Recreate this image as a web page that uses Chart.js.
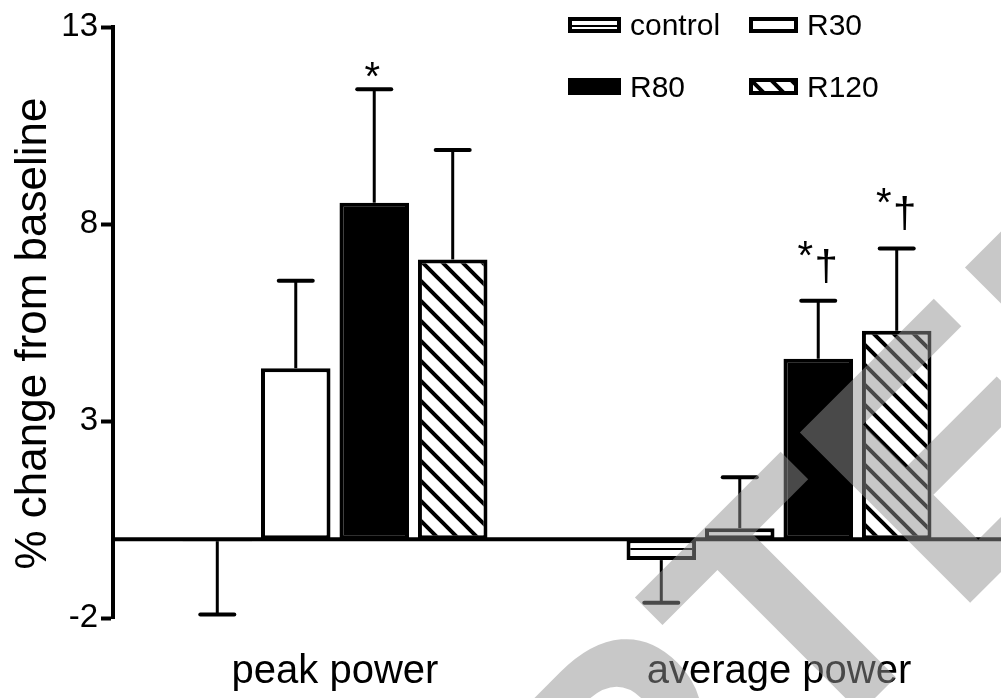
<!DOCTYPE html>
<html>
<head>
<meta charset="utf-8">
<script src="https://cdn.jsdelivr.net/npm/chart.js@4.4.0/dist/chart.umd.min.js"></script>
<style>
  html, body { margin: 0; padding: 0; background: #fff; }
</style>
</head>
<body>
<canvas id="chart" width="1001" height="698"></canvas>
<script>
var categories = ['peak power', 'average power'];
var seriesNames = ['control', 'R30', 'R80', 'R120'];

var controlMean = [-0.05, -0.53];
var controlSD = [1.86, 1.08];
var r30Mean = [4.34, 0.28];
var r30SD = [2.22, 1.29];
var r80Mean = [8.54, 4.58];
var r80SD = [2.88, 1.47];
var r120Mean = [7.10, 5.29];
var r120SD = [2.78, 2.09];

var controlMarks = ['', ''];
var r30Marks = ['', ''];
var r80Marks = ['*', '*\u2020'];
var r120Marks = ['', '*\u2020'];

var yTicks = [-2, 3, 8, 13];
var yTitle = '% change from baseline\u2002';
var watermarkText = 'ACCEPTED MANUSCRIPT';

var FONT = '"Liberation Sans", Arial, sans-serif';

function stripePattern() {
    var c = document.createElement('canvas');
    c.width = 10; c.height = 10;
    var x = c.getContext('2d');
    x.fillStyle = '#fff';
    x.fillRect(0, 0, 10, 10);
    x.fillStyle = '#000';
    x.fillRect(0, 8, 10, 2);
    return x.createPattern(c, 'repeat');
}

function hatchPattern() {
    var c = document.createElement('canvas');
    c.width = 20; c.height = 20;
    var x = c.getContext('2d');
    x.fillStyle = '#fff';
    x.fillRect(0, 0, 20, 20);
    x.strokeStyle = '#000';
    x.lineWidth = 4;
    x.beginPath();
    x.moveTo(-10, -10); x.lineTo(30, 30);
    x.moveTo(-10, 10); x.lineTo(10, 30);
    x.moveTo(10, -10); x.lineTo(30, 10);
    x.stroke();
    return x.createPattern(c, 'repeat');
}

var fills = [stripePattern(), '#ffffff', '#000000', hatchPattern()];
var means = [controlMean, r30Mean, r80Mean, r120Mean];
var sds = [controlSD, r30SD, r80SD, r120SD];
var marks = [controlMarks, r30Marks, r80Marks, r120Marks];

var datasets = seriesNames.map(function(name, i) {
    return {
        label: name,
        data: means[i],
        sd: sds[i],
        marks: marks[i],
        backgroundColor: fills[i],
        borderColor: '#000',
        borderWidth: 4,
        borderSkipped: false,
        categoryPercentage: 0.707,
        barPercentage: 0.886
    };
});

var extras = {
    id: 'extras',
    beforeDatasetsDraw: function(chart) {
        // thick line at zero
        var ctx = chart.ctx;
        var y0 = chart.scales.y.getPixelForValue(0);
        ctx.save();
        ctx.strokeStyle = '#000';
        ctx.lineWidth = 4;
        ctx.beginPath();
        ctx.moveTo(chart.chartArea.left, y0);
        ctx.lineTo(chart.width, y0);
        ctx.stroke();
        ctx.restore();
    },
    afterDatasetsDraw: function(chart) {
        var ctx = chart.ctx;
        var y = chart.scales.y;
        ctx.save();
        ctx.strokeStyle = '#000';
        ctx.fillStyle = '#000';
        chart.data.datasets.forEach(function(ds, i) {
            var meta = chart.getDatasetMeta(i);
            meta.data.forEach(function(bar, j) {
                var v = ds.data[j];
                var end = v + (v < 0 ? -ds.sd[j] : ds.sd[j]);
                var ey = y.getPixelForValue(end);
                ctx.lineWidth = 3;
                ctx.beginPath();
                ctx.moveTo(bar.x, bar.y);
                ctx.lineTo(bar.x, ey);
                ctx.stroke();
                ctx.lineWidth = 4;
                ctx.lineCap = 'round';
                ctx.beginPath();
                ctx.moveTo(bar.x - 17, ey);
                ctx.lineTo(bar.x + 17, ey);
                ctx.stroke();
                ctx.lineCap = 'butt';

                var m = ds.marks[j];
                if (!m) return;
                ctx.textAlign = 'center';
                ctx.textBaseline = 'alphabetic';
                ctx.font = '40px ' + FONT;
                var star = ctx.measureText('*');
                if (m === '*') {
                    ctx.fillText('*', bar.x - 2, ey - 27 + star.actualBoundingBoxAscent);
                } else {
                    ctx.fillText('*', bar.x - 13, ey - 60 + star.actualBoundingBoxAscent);
                    ctx.font = '42px ' + FONT;
                    var dag = ctx.measureText('\u2020');
                    ctx.fillText('\u2020', bar.x + 8, ey - 18 - dag.actualBoundingBoxDescent);
                }
            });
        });
        ctx.restore();
    },
    afterDraw: function(chart) {
        var ctx = chart.ctx;
        ctx.save();

        // legend, 2 x 2
        var cols = [568, 749], rows = [17, 78];
        var boxW = [53, 49], boxH = [16, 17];
        ctx.font = '30px ' + FONT;
        ctx.textAlign = 'left';
        ctx.textBaseline = 'alphabetic';
        var capH = ctx.measureText('R').actualBoundingBoxAscent;
        chart.data.datasets.forEach(function(ds, i) {
            var c = i % 2, r = Math.floor(i / 2);
            var bx = cols[c], by = rows[r], w = boxW[c], h = boxH[r];
            ctx.save();
            ctx.translate(bx, by);
            ctx.fillStyle = '#000';
            ctx.fillRect(0, 0, w, h);
            ctx.fillStyle = ds.backgroundColor;
            ctx.fillRect(4, 4, w - 8, h - 8);
            ctx.restore();
            ctx.fillStyle = '#000';
            ctx.fillText(ds.label, bx + w + 9, by + h / 2 + capH / 2);
        });

        // grey watermark over everything
        ctx.font = 'bold 350px ' + FONT;
        ctx.fillStyle = 'rgba(146,146,146,0.5)';
        ctx.textAlign = 'left';
        var pre = ctx.measureText('ACCEP').width + ctx.measureText('T').width / 2;
        ctx.translate(878, 695);
        ctx.rotate(-Math.PI / 4);
        ctx.fillText(watermarkText, -pre, 0);
        ctx.restore();
    }
};

new Chart(document.getElementById('chart'), {
    type: 'bar',
    data: { labels: categories, datasets: datasets },
    options: {
        responsive: false,
        devicePixelRatio: 1,
        animation: false,
        layout: { padding: { top: 27, right: -6, bottom: 0, left: 0 } },
        plugins: { legend: { display: false }, tooltip: { enabled: false } },
        scales: {
            x: {
                offset: true,
                grid: { display: false, drawTicks: false },
                border: { display: false },
                ticks: { color: '#000', font: { family: FONT, size: 40 }, padding: 30 },
                afterFit: function(s) { s.height = 80; }
            },
            y: {
                min: -2,
                max: 13,
                afterBuildTicks: function(s) {
                    s.ticks = yTicks.map(function(v) { return { value: v }; });
                },
                afterFit: function(s) { s.width = 113; },
                grid: { drawOnChartArea: false, tickLength: 12, tickWidth: 4, tickColor: '#000' },
                border: { display: true, color: '#000', width: 4 },
                ticks: { color: '#000', font: { family: FONT, size: 33 }, padding: 3 },
                title: {
                    display: true,
                    text: yTitle,
                    color: '#000',
                    font: { family: FONT, size: 44 },
                    padding: { top: 7, bottom: 0 }
                }
            }
        }
    },
    plugins: [extras]
});
</script>
</body>
</html>
